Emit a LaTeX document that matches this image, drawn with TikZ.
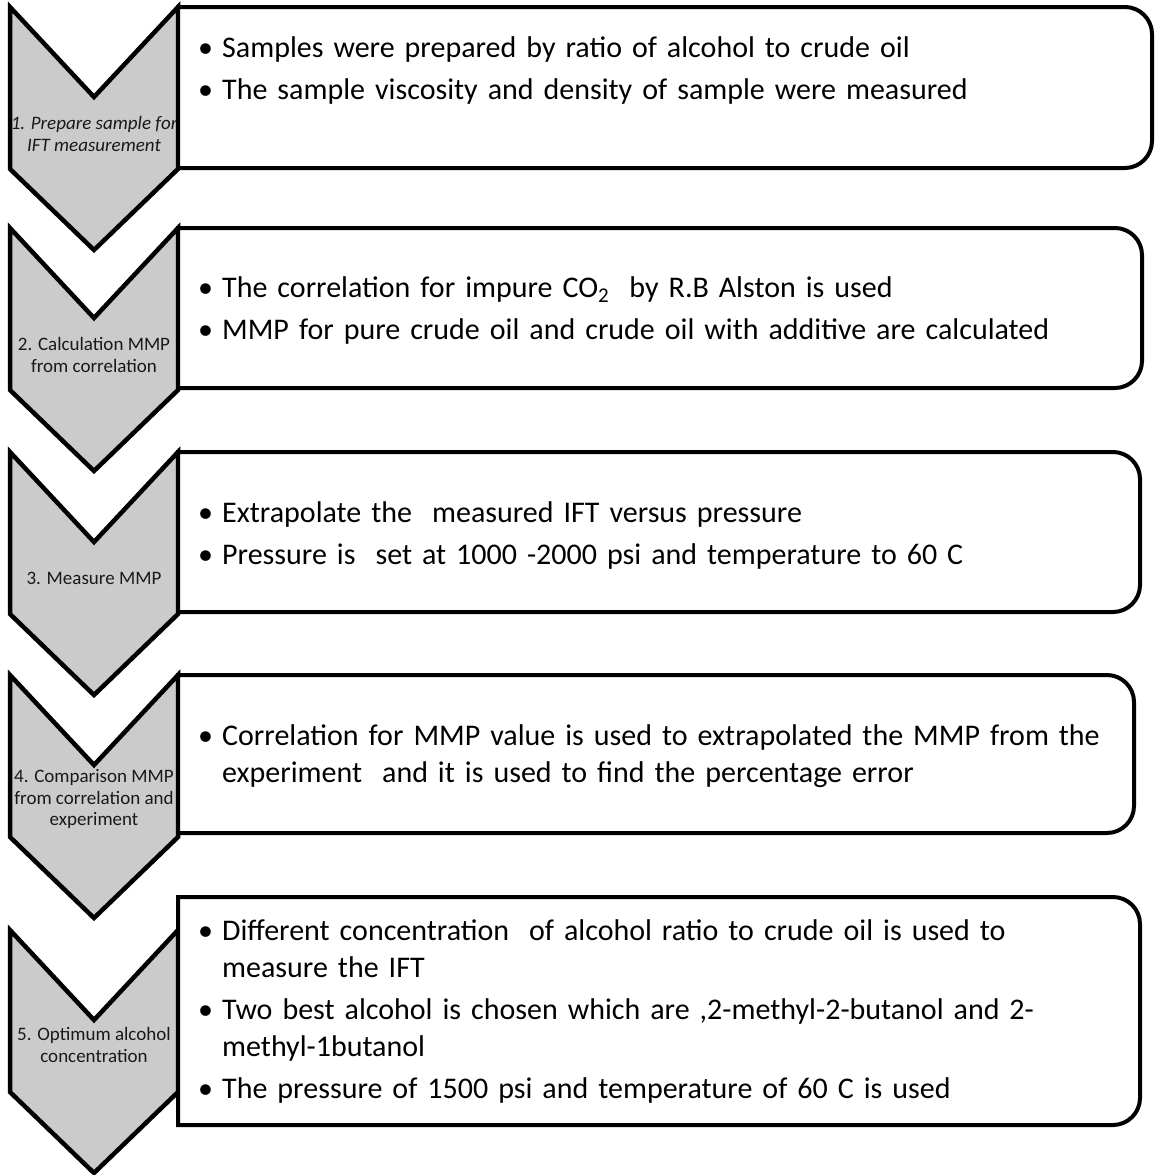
\documentclass[tikz,border=0pt]{standalone}
\usepackage{fontspec}
\setmainfont{Carlito}

\definecolor{ChevronColor}{HTML}{CBCBCB}
\newcommand{\bitem}[1]{\hangindent=24pt\hangafter=1\noindent\makebox[24pt][l]{\textbullet}#1\par}

\begin{document}
\begin{tikzpicture}[x=1pt,y=-1pt,
    chevron/.style={fill=ChevronColor,draw=black,line width=4.5pt,line join=miter},
    stepbox/.style={fill=white,draw=black,line width=4pt},
    steplabel/.style={font=\fontsize{19}{21.5}\selectfont,text=black!90,align=center,inner sep=0pt},
    steptext/.style={font=\fontsize{30}{37}\selectfont\setlength{\parskip}{5pt},
      text width=940pt,align=left,anchor=base west,inner sep=0pt}]
  % ===== Parameters =====
  \def\chevL{10}
  \def\chevR{178}
  \def\chevM{94}
  \def\notch{90}
  \def\side{162}
  \def\tip{243}
  \def\rad{27}

  \useasboundingbox (0,0) rectangle (1165,1175);

  % ===== Chevrons =====
  \foreach \ytop in {7,228,452,675,930}{
    \draw[chevron] (\chevL,\ytop) -- (\chevM,\ytop+\notch) -- (\chevR,\ytop)
      -- (\chevR,\ytop+\side) -- (\chevM,\ytop+\tip) -- (\chevL,\ytop+\side) -- cycle;
  }

  % ===== Step labels =====
  \node[steplabel,font=\fontsize{19}{21.5}\selectfont\itshape] (lbl1) at (\chevM,134)
    {1. Prepare sample for\\IFT measurement};
  \foreach \i/\ypos/\lbl in {
      2/355/{2. Calculation MMP\\from correlation},
      3/578/{3. Measure MMP},
      4/799/{4. Comparison MMP\\from correlation and\\experiment},
      5/1045/{5. Optimum alcohol\\concentration}}{
    \node[steplabel] (lbl\i) at (\chevM,\ypos) {\lbl};
  }

  % ===== Boxes (square left, rounded right) =====
  \foreach \ytop/\ybot/\xr in {7/168/1152, 228/388/1142, 452/612/1140,
      675/833/1134, 897/1125/1140}{
    \draw[stepbox] (\chevR,\ytop) -- (\xr-\rad,\ytop)
      .. controls (\xr-0.45*\rad,\ytop) and (\xr,\ytop+0.45*\rad) .. (\xr,\ytop+\rad)
      -- (\xr,\ybot-\rad)
      .. controls (\xr,\ybot-0.45*\rad) and (\xr-0.45*\rad,\ybot) .. (\xr-\rad,\ybot)
      -- (\chevR,\ybot) -- cycle;
  }

  % ===== Box texts =====
  \node[steptext] (txt1) at (198,57) {%
    \bitem{Samples were prepared by ratio of alcohol to crude oil}
    \bitem{The sample viscosity and density of sample were measured}};
  \node[steptext] (txt2) at (198,297) {%
    \bitem{The correlation for impure CO\textsubscript{2}\ \ by R.B Alston is used}
    \bitem{MMP for pure crude oil and crude oil with additive are calculated}};
  \node[steptext] (txt3) at (198,522) {%
    \bitem{Extrapolate the\ \ measured IFT versus pressure}
    \bitem{Pressure is\ \ set at 1000 -2000 psi and temperature to 60 C}};
  \node[steptext] (txt4) at (198,745) {%
    \bitem{Correlation for MMP value is used to extrapolated the MMP from the\newline
      experiment\ \ and it is used to find the percentage error}};
  \node[steptext] (txt5) at (198,940) {%
    \bitem{Different concentration\ \ of alcohol ratio to crude oil is used to\newline
      measure the IFT}
    \bitem{Two best alcohol is chosen which are ,2-methyl-2-butanol and 2-\newline
      methyl-1butanol}
    \bitem{The pressure of 1500 psi and temperature of 60 C is used}};

\end{tikzpicture}
\end{document}
